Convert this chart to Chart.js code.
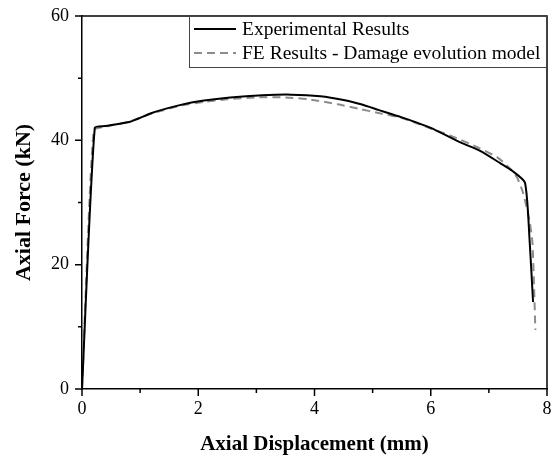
<!DOCTYPE html>
<html>
<head>
<meta charset="utf-8">
<script src="https://cdn.jsdelivr.net/npm/chart.js@4/dist/chart.umd.min.js"></script>
<style>
  html, body { margin: 0; padding: 0; background: #fff; }
  #wrap { width: 552px; height: 459px; }
</style>
</head>
<body>
<div id="wrap"><canvas id="grafica" width="552" height="459"></canvas></div>
<script>
var colorNegro = "#000";
var colorGris = "#8c8c8c";
var fuente = "'Liberation Serif', 'Times New Roman', serif";

// datos
var expX = [0, 0.22, 0.4, 0.83, 1.2, 1.7, 2.1, 2.55, 3.1, 3.6, 4.1, 4.5, 4.8, 5.1, 5.5, 6.0, 6.5, 6.85, 7.2, 7.4, 7.62, 7.7, 7.76];
var expY = [0, 42.0, 42.3, 43.0, 44.4, 45.7, 46.4, 46.9, 47.25, 47.35, 47.1, 46.5, 45.8, 44.9, 43.7, 42.0, 39.7, 38.3, 36.3, 35.1, 33.2, 24, 14];

var feX = [0, 0.2, 0.4, 0.8, 1.2, 1.7, 2.1, 2.5, 3.0, 3.5, 3.9, 4.4, 4.8, 5.1, 5.5, 6.0, 6.33, 6.8, 7.14, 7.35, 7.48, 7.59, 7.7, 7.75, 7.8];
var feY = [0, 41.6, 42.2, 43.0, 44.3, 45.6, 46.2, 46.6, 46.9, 46.9, 46.6, 45.8, 45.0, 44.4, 43.6, 41.9, 40.8, 38.9, 37.3, 35.6, 34.1, 31.5, 27, 23.5, 9.5];

var ticksX = [0, 2, 4, 6, 8];
var ticksY = [0, 20, 40, 60];

function puntos(xs, ys) {
    return xs.map(function (x, i) { return { x: x, y: ys[i] }; });
}

// ticks mayores y menores, marco superior/derecho y leyenda
var marcoPlugin = {
    id: 'marco',
    afterDraw: function (chart) {
        var ctx = chart.ctx;
        var a = chart.chartArea;
        var sx = chart.scales.x, sy = chart.scales.y;
        ctx.save();
        ctx.strokeStyle = colorNegro;
        ctx.lineWidth = 1.5;
        ctx.beginPath();
        ctx.moveTo(a.left, a.top); ctx.lineTo(a.right, a.top); ctx.lineTo(a.right, a.bottom);
        ctx.stroke();
        ctx.beginPath();
        for (var v = 0; v <= 8; v += 1) {
            var px = sx.getPixelForValue(v);
            var largo = v % 2 === 0 ? 7 : 4;
            ctx.moveTo(px, a.bottom); ctx.lineTo(px, a.bottom + largo);
        }
        for (var w = 0; w <= 60; w += 10) {
            var py = sy.getPixelForValue(w);
            var l2 = w % 20 === 0 ? 7 : 4;
            ctx.moveTo(a.left, py); ctx.lineTo(a.left - l2, py);
        }
        ctx.stroke();

        // leyenda
        var bx = 189, by = a.top, bw = a.right - 1 - bx, bh = 51;
        ctx.fillStyle = "#fff";
        ctx.fillRect(bx, by, bw, bh);
        ctx.strokeStyle = "#444";
        ctx.lineWidth = 1;
        ctx.strokeRect(bx + 0.5, by + 0.5, bw, bh);
        ctx.font = "19.5px " + fuente;
        ctx.textBaseline = "middle";
        chart.data.datasets.forEach(function (ds, i) {
            var yy = by + 13 + i * 24;
            ctx.strokeStyle = ds.borderColor;
            ctx.lineWidth = ds.borderWidth;
            ctx.setLineDash(ds.borderDash || []);
            ctx.beginPath();
            ctx.moveTo(bx + 5, yy); ctx.lineTo(bx + 47, yy);
            ctx.stroke();
            ctx.setLineDash([]);
            ctx.fillStyle = colorNegro;
            ctx.fillText(ds.label, bx + 53, yy + 1);
        });
        ctx.restore();
    }
};

var configuracion = {
    type: 'line',
    data: {
        datasets: [{
            label: 'Experimental Results',
            data: puntos(expX, expY),
            borderColor: colorNegro,
            borderWidth: 2,
            pointRadius: 0,
            tension: 0.2
        }, {
            label: 'FE Results - Damage evolution model',
            data: puntos(feX, feY),
            borderColor: colorGris,
            borderWidth: 2,
            borderDash: [8, 5],
            pointRadius: 0,
            tension: 0.2
        }]
    },
    options: {
        responsive: false,
        animation: false,
        layout: { padding: { top: 16, right: 5, left: 0, bottom: 0 } },
        plugins: { legend: { display: false }, tooltip: { enabled: false } },
        scales: {
            x: {
                type: 'linear', min: 0, max: 8,
                afterBuildTicks: function (s) { s.ticks = ticksX.map(function (v) { return { value: v }; }); },
                afterFit: function (s) { s.height = 70; s.paddingLeft = 0; s.paddingRight = 0; },
                grid: { display: false, drawTicks: false },
                border: { display: true, color: colorNegro, width: 1.5 },
                ticks: { color: colorNegro, padding: 9, font: { family: fuente, size: 18 }, maxRotation: 0 },
                title: { display: true, text: 'Axial Displacement (mm)', color: colorNegro,
                         font: { family: fuente, size: 21, weight: 'bold' }, padding: { top: 0, bottom: 2 } }
            },
            y: {
                min: 0, max: 60,
                afterBuildTicks: function (s) { s.ticks = ticksY.map(function (v) { return { value: v }; }); },
                afterFit: function (s) { s.width = 82; s.paddingTop = 0; s.paddingBottom = 0; },
                grid: { display: false, drawTicks: false },
                border: { display: true, color: colorNegro, width: 1.5 },
                ticks: { color: colorNegro, padding: 13, font: { family: fuente, size: 18 } },
                title: { display: true, text: 'Axial Force (kN)', color: colorNegro,
                         font: { family: fuente, size: 22, weight: 'bold' }, padding: { top: 11, bottom: 0 } }
            }
        }
    },
    plugins: [marcoPlugin]
};

var grafica = new Chart(document.getElementById('grafica'), configuracion);
</script>
</body>
</html>
